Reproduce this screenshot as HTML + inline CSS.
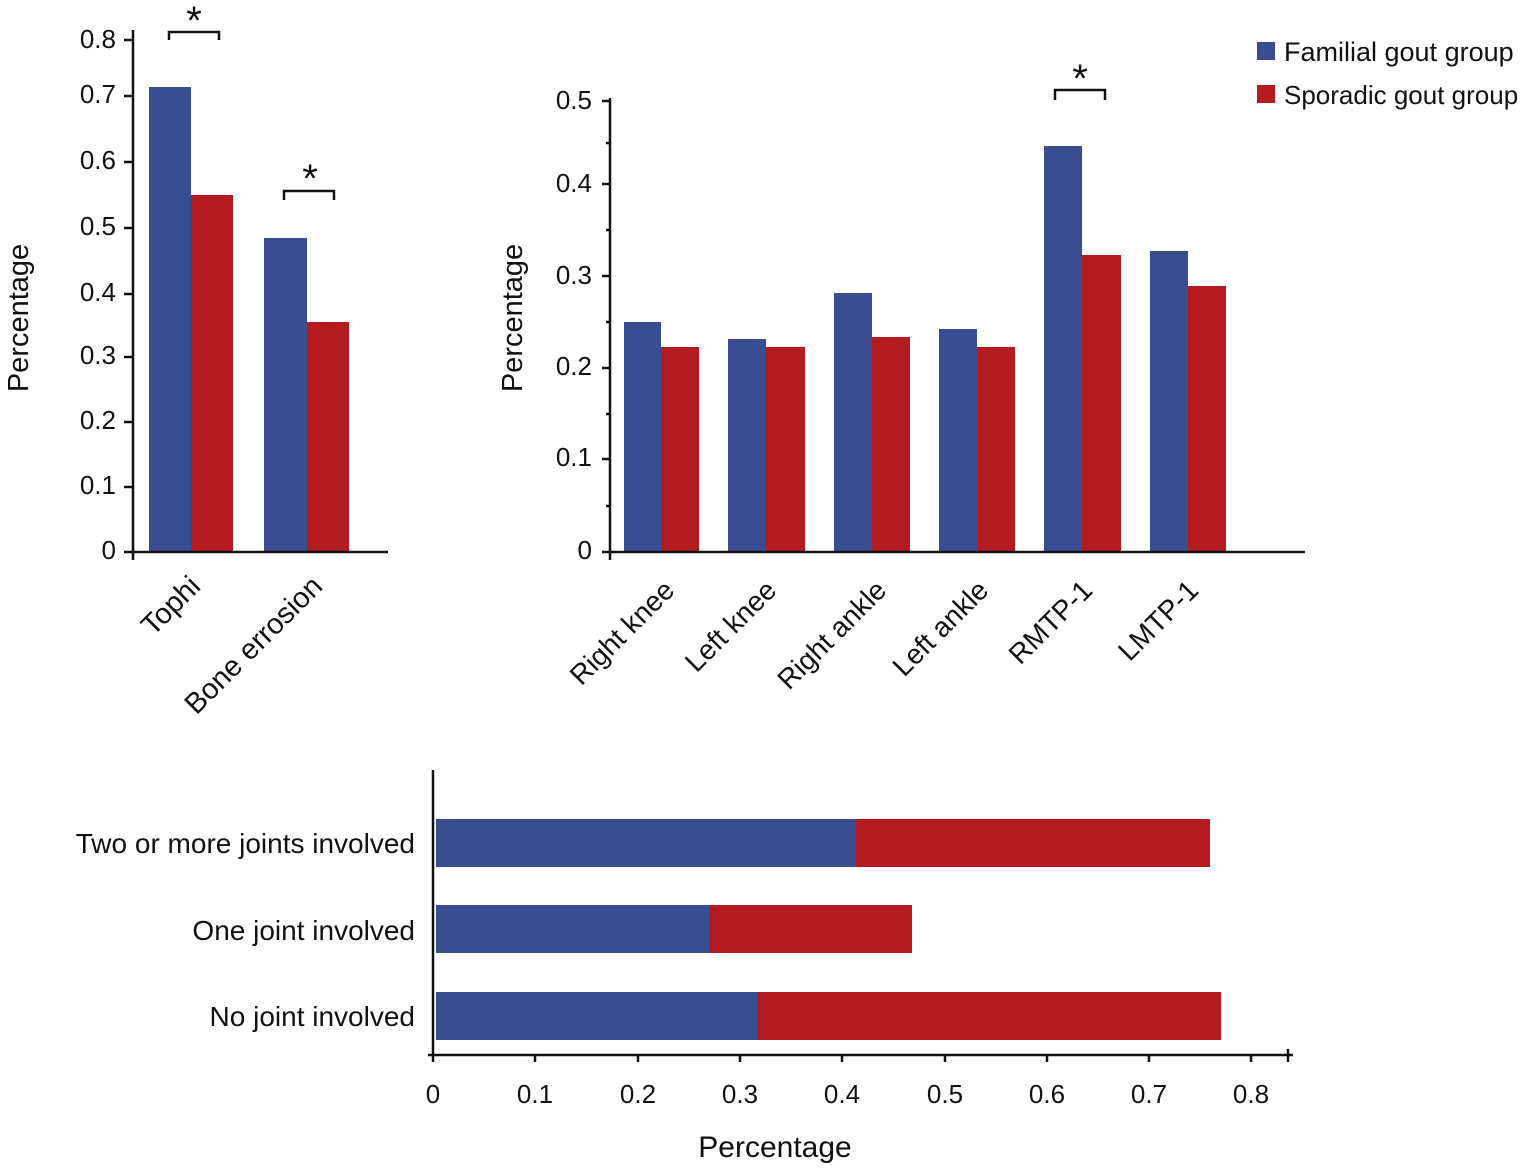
<!DOCTYPE html>
<html><head><style>body{margin:0;background:#fff}svg{display:block}text{font-family:"Liberation Sans",Arial,sans-serif;fill:#111}</style></head>
<body>
<svg width="1535" height="1169" viewBox="0 0 1535 1169" xmlns="http://www.w3.org/2000/svg">
<g font-size="26">
<!-- Chart 1 -->
<g fill="#3a4d92"><rect x="149" y="87" width="42" height="465"/><rect x="264" y="238" width="43" height="314"/></g>
<g fill="#b31b20"><rect x="191" y="195" width="42" height="357"/><rect x="307" y="322" width="42" height="230"/></g>
<g stroke="#111" stroke-width="2.5" fill="none">
<line x1="133" y1="30" x2="133" y2="560"/><line x1="124" y1="552" x2="388" y2="552"/>
<path d="M124 40H133M124 96H133M124 162H133M124 228H133M124 294H133M124 357H133M124 422H133M124 487H133"/>
<path d="M169 40V32H219V40M284 200V191H334V200"/>
</g>
<g text-anchor="end" dominant-baseline="middle">
<text x="116" y="41">0.8</text><text x="116" y="96">0.7</text><text x="116" y="162">0.6</text><text x="116" y="228">0.5</text><text x="116" y="294">0.4</text><text x="116" y="357">0.3</text><text x="116" y="422">0.2</text><text x="116" y="487">0.1</text><text x="116" y="552">0</text>
</g>
<text x="194" y="34" font-size="40" text-anchor="middle">*</text>
<text x="310" y="192" font-size="40" text-anchor="middle">*</text>
<text transform="translate(28,318) rotate(-90)" text-anchor="middle" font-size="29">Percentage</text>
<text transform="translate(202,588) rotate(-45)" text-anchor="end" font-size="29">Tophi</text>
<text transform="translate(324,588) rotate(-45)" text-anchor="end" font-size="29">Bone errosion</text>

<!-- Chart 2 -->
<g fill="#3a4d92"><rect x="624" y="322" width="37" height="230"/><rect x="728" y="339" width="38" height="213"/><rect x="834" y="293" width="38" height="259"/><rect x="939" y="329" width="38" height="223"/><rect x="1044" y="146" width="38" height="406"/><rect x="1150" y="251" width="38" height="301"/></g>
<g fill="#b31b20"><rect x="661" y="347" width="38" height="205"/><rect x="766" y="347" width="39" height="205"/><rect x="872" y="337" width="38" height="215"/><rect x="977" y="347" width="38" height="205"/><rect x="1082" y="255" width="39" height="297"/><rect x="1188" y="286" width="38" height="266"/></g>
<g stroke="#111" stroke-width="2.5" fill="none">
<line x1="610" y1="98" x2="610" y2="560"/><line x1="602" y1="552" x2="1305" y2="552"/>
<path d="M602 101H610M602 184H610M602 276H610M602 368H610M602 459H610M606 143H610M606 230H610M606 322H610M606 414H610M606 506H610"/>
<path d="M1055 100V90H1105V100"/>
</g>
<g text-anchor="end" dominant-baseline="middle">
<text x="592" y="102">0.5</text><text x="592" y="185">0.4</text><text x="592" y="277">0.3</text><text x="592" y="368">0.2</text><text x="592" y="459">0.1</text><text x="592" y="552">0</text>
</g>
<text x="1080" y="92" font-size="40" text-anchor="middle">*</text>
<text transform="translate(522,318) rotate(-90)" text-anchor="middle" font-size="29">Percentage</text>
<g font-size="28" text-anchor="end">
<text transform="translate(676,592) rotate(-45)">Right knee</text>
<text transform="translate(778,592) rotate(-45)">Left knee</text>
<text transform="translate(888,592) rotate(-45)">Right ankle</text>
<text transform="translate(990,592) rotate(-45)">Left ankle</text>
<text transform="translate(1094,592) rotate(-45)">RMTP-1</text>
<text transform="translate(1200,592) rotate(-45)">LMTP-1</text>
</g>
<rect x="1257" y="42" width="18" height="18" fill="#3a4d92"/>
<rect x="1257" y="85" width="18" height="18" fill="#b31b20"/>
<text x="1284" y="61" font-size="27">Familial gout group</text>
<text x="1284" y="104" font-size="26">Sporadic gout group</text>

<!-- Chart 3 -->
<g fill="#3a4d92"><rect x="436" y="819" width="420" height="48"/><rect x="436" y="905" width="273" height="48"/><rect x="436" y="992" width="322" height="48"/></g>
<g fill="#b31b20"><rect x="856" y="819" width="354" height="48"/><rect x="709" y="905" width="203" height="48"/><rect x="758" y="992" width="463" height="48"/></g>
<g stroke="#111" stroke-width="2.5" fill="none">
<line x1="433" y1="770" x2="433" y2="1062"/><line x1="428" y1="1055" x2="1293" y2="1055"/>
<path d="M535 1055V1062M638 1055V1062M740 1055V1062M842 1055V1062M945 1055V1062M1047 1055V1062M1149 1055V1062M1251 1055V1062M1288 1049V1062"/>
</g>
<g text-anchor="middle">
<text x="433" y="1103">0</text><text x="535" y="1103">0.1</text><text x="638" y="1103">0.2</text><text x="740" y="1103">0.3</text><text x="842" y="1103">0.4</text><text x="945" y="1103">0.5</text><text x="1047" y="1103">0.6</text><text x="1149" y="1103">0.7</text><text x="1251" y="1103">0.8</text>
</g>
<text x="775" y="1157" font-size="30" text-anchor="middle">Percentage</text>
<g text-anchor="end" font-size="28">
<text x="415" y="853">Two or more joints involved</text>
<text x="415" y="940">One joint involved</text>
<text x="415" y="1026">No joint involved</text>
</g>
</g>
</svg>
</body></html>
